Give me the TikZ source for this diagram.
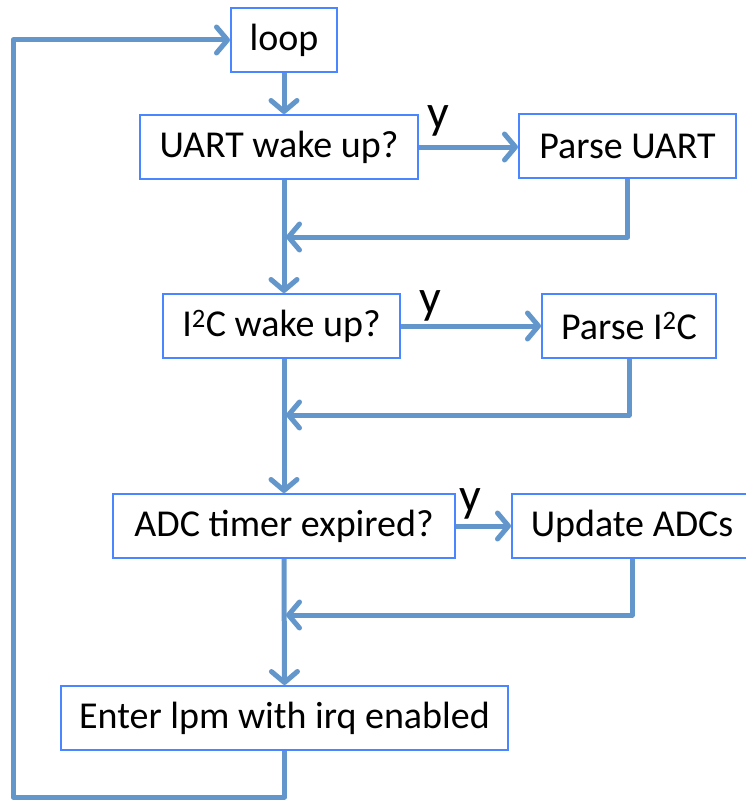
\documentclass[tikz,border=0pt]{standalone}
\usepackage{fontspec}
\setmainfont{Carlito}[Ligatures=Rare]
\usetikzlibrary{arrows.meta}
\definecolor{flowblue}{RGB}{99,151,204}
\definecolor{boxblue}{RGB}{74,134,255}
\tikzset{
  box/.style={draw=boxblue, fill=white, line width=2pt, minimum height=64pt, inner sep=0pt, font=\fontsize{38}{45}\selectfont},
  flow/.style={draw=flowblue, line width=5pt, line join=round, -{Straight Barb[length=11pt,width=26pt,round]}},
  ylab/.style={font=\fontsize{48}{56}\selectfont, inner sep=0pt, anchor=base}
}
\begin{document}
\begin{tikzpicture}[x=1pt,y=-1pt]
\useasboundingbox (0,0) rectangle (746,800);
\clip (0,0) rectangle (746,800);
\fill[white] (0,0) rectangle (746,800);

\node[box, minimum width=106pt] (loop) at (284,40) {loop};
\node[box, minimum width=278pt] (uart) at (279,147) {UART wake up?};
\node[box, minimum width=217pt] (puart) at (627.5,146) {Parse UART};
\node[box, minimum width=237pt] (i2c) at (281.5,326) {I\textsuperscript{2}C wake up?};
\node[box, minimum width=174pt] (pi2c) at (629,326) {Parse I\textsuperscript{2}C};
\node[box, minimum width=342pt] (adc) at (284,526) {ADC timer expired?};
\node[box, minimum width=240pt] (upd) at (632,526) {Update ADCs};
\node[box, minimum width=447pt] (lpm) at (284.5,718) {Enter lpm with irq enabled};

\coordinate (j1) at (286,237);
\coordinate (j2) at (286,415);
\coordinate (j3) at (286,615);
\coordinate (c1) at (13,797);

\draw[flow] (loop.south) -- (loop.south |- uart.north);
\draw[flow] (uart.east) -- (uart.east -| puart.west);
\node[ylab] (y1) at (438,128) {y};
\draw[flow] (puart.south) |- (j1);
\draw[flow] (uart.south -| loop.south) -- (i2c.north -| loop.south);

\draw[flow] (i2c.east) -- (pi2c.west);
\node[ylab] (y2) at (430,313) {y};
\draw[flow] (pi2c.south) |- (j2);
\draw[flow] (i2c.south -| adc.north) -- (adc.north);

\draw[flow] (adc.east) -- (upd.west);
\node[ylab] (y3) at (470,511) {y};
\draw[flow] (upd.south) |- (j3);
\draw[flow] (adc.south) -- (lpm.north);

\draw[flow] (lpm.south) |- (c1) |- (loop.west);
\end{tikzpicture}
\end{document}
